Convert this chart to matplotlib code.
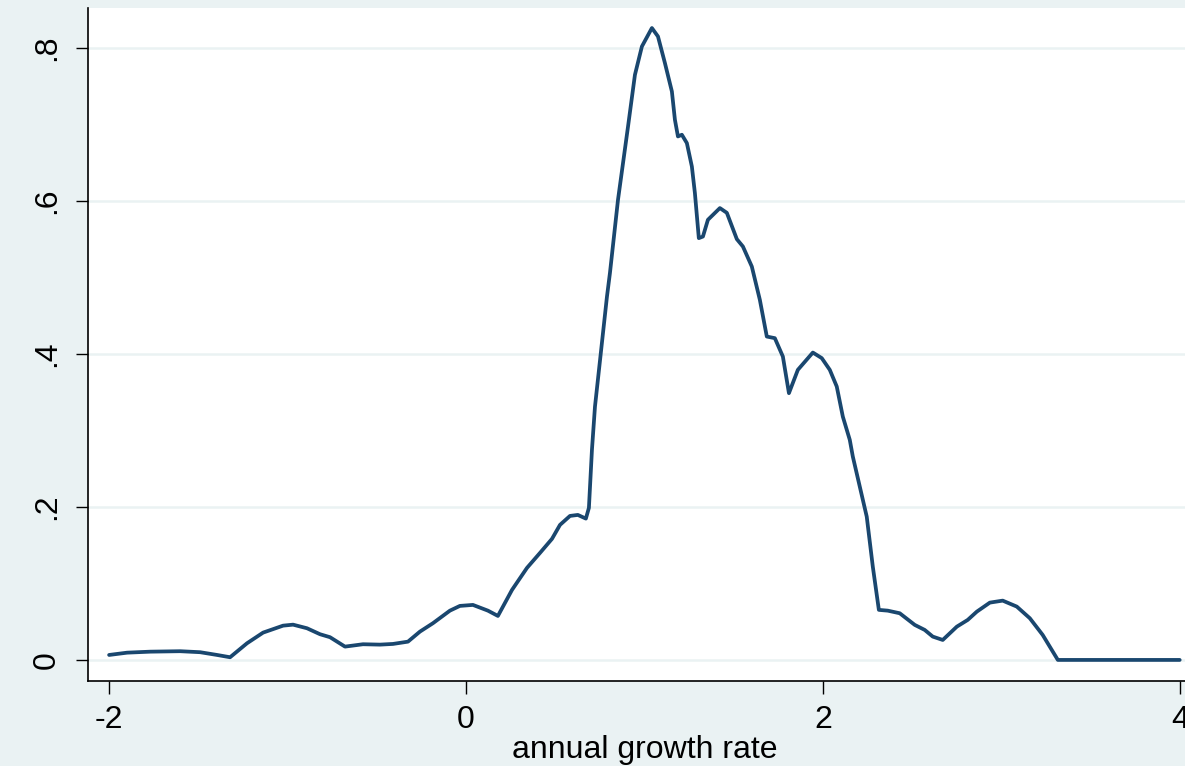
import matplotlib.pyplot as plt

# kernel density of annual growth rate
growth = [-2.0, -1.899, -1.770, -1.602, -1.490, -1.395, -1.322, -1.227, -1.137,
          -1.025, -0.969, -0.891, -0.818, -0.762, -0.678, -0.577, -0.482, -0.409,
          -0.325, -0.258, -0.185, -0.090, -0.034, 0.039, 0.123, 0.179, 0.258,
          0.342, 0.415, 0.482, 0.527, 0.583, 0.627, 0.672, 0.689, 0.706, 0.723,
          0.790, 0.807, 0.852, 0.908, 0.947, 0.986, 1.042, 1.076, 1.115, 1.154,
          1.171, 1.188, 1.210, 1.238, 1.266, 1.283, 1.305, 1.328, 1.356, 1.423,
          1.462, 1.518, 1.552, 1.602, 1.647, 1.686, 1.731, 1.776, 1.810, 1.860,
          1.944, 1.994, 2.039, 2.078, 2.112, 2.151, 2.168, 2.246, 2.280, 2.314,
          2.364, 2.431, 2.515, 2.571, 2.616, 2.672, 2.751, 2.812, 2.863, 2.936,
          3.008, 3.087, 3.160, 3.232, 3.317, 4.0]
density = [0.0065, 0.0095, 0.0108, 0.0114, 0.0101, 0.0065, 0.0035, 0.0218, 0.0357,
           0.0448, 0.0461, 0.0414, 0.0336, 0.0297, 0.0174, 0.0205, 0.0200, 0.0209,
           0.0239, 0.0370, 0.0480, 0.0644, 0.0706, 0.0719, 0.0644, 0.0575, 0.0915,
           0.1203, 0.1399, 0.1582, 0.1765, 0.1882, 0.1895, 0.1847, 0.1987, 0.2745, 0.3311,
           0.4745, 0.5059, 0.6013, 0.6967, 0.7647, 0.8017, 0.8258, 0.8148, 0.7800, 0.7429,
           0.7059, 0.6841, 0.6863, 0.6754, 0.6448, 0.6101, 0.5512, 0.5533, 0.5752, 0.5905,
           0.5843, 0.5499, 0.5403, 0.5141, 0.4706, 0.4226, 0.4205, 0.3965, 0.3486, 0.3791,
           0.4017, 0.3944, 0.3791, 0.3573, 0.3180, 0.2876, 0.2658, 0.1873, 0.1220, 0.0654,
           0.0644, 0.0610, 0.0458, 0.0392, 0.0305, 0.0261, 0.0435, 0.0523, 0.0631, 0.0749,
           0.0775, 0.0697, 0.0545, 0.0327, 0.0, 0.0]

xticks = [-2, 0, 2, 4]
yticks = [0, 0.2, 0.4, 0.6, 0.8]
ylabels = ["0", ".2", ".4", ".6", ".8"]

bg = "#eaf2f3"
navy = "#1a476f"

plt.rcParams["font.family"] = ["Liberation Sans", "DejaVu Sans"]

fig = plt.figure(figsize=(11.85, 7.66), dpi=100)
fig.patch.set_facecolor(bg)
ax = fig.add_axes([0.0743, 0.111, 0.939, 0.8786])
ax.set_facecolor("white")

ax.plot(growth, density, color=navy, lw=2.7, solid_joinstyle="round",
        solid_capstyle="round", zorder=3)

ax.set_xlim(-2.118, 4.118)
ax.set_ylim(-0.0275, 0.852)
ax.set_xticks(xticks)
ax.set_xticklabels([str(t) for t in xticks], fontsize=23)
ax.set_yticks(yticks)
ax.set_yticklabels(ylabels, fontsize=23, rotation=90, va="center")
ax.tick_params(direction="out", length=9, width=1, color="black", pad=8)
ax.tick_params(axis="y", pad=10)

ax.grid(axis="y", color=bg, lw=1.8, zorder=0)
ax.set_axisbelow(True)

for side in ["top", "right"]:
    ax.spines[side].set_visible(False)
for side in ["left", "bottom"]:
    ax.spines[side].set_linewidth(1.2)
    ax.spines[side].set_color("black")

ax.set_xlabel("annual growth rate", fontsize=23, labelpad=0)

fig.savefig("out.png", dpi=100, facecolor=bg)
